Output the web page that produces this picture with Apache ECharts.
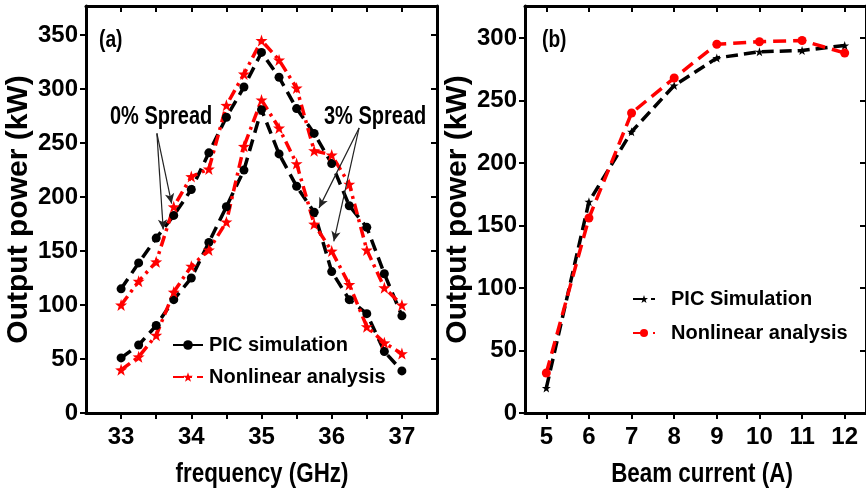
<!DOCTYPE html>
<html>
<head>
<meta charset="utf-8">
<script src="https://cdn.jsdelivr.net/npm/echarts@6/dist/echarts.min.js"></script>
<style>
  html, body { margin: 0; padding: 0; background: #fff; }
  #chart { width: 866px; height: 497px; }
</style>
</head>
<body>
<div id="chart"></div>
<script>
// (a) output power versus frequency, for 0% and 3% velocity spread
const freq = [33, 33.25, 33.5, 33.75, 34, 34.25, 34.5, 34.75, 35, 35.25, 35.5, 35.75, 36, 36.25, 36.5, 36.75, 37];
const picSpread0 = [115, 139, 162, 183, 207, 241, 274, 302, 334, 311, 282, 259, 231, 192, 172, 129, 90];
const nlSpread0  = [100, 122, 140, 191, 219, 226, 285, 314, 345, 327, 301, 243, 239, 212, 151, 116, 100];
const picSpread3 = [51, 63, 81, 105, 125, 158, 191, 225, 281, 240, 210, 186, 131, 105, 92, 57, 39];
const nlSpread3  = [40, 52, 72, 112, 136, 151, 177, 247, 290, 264, 231, 175, 150, 119, 80, 65, 55];

// (b) output power versus beam current
const current = [5, 6, 7, 8, 9, 10, 11, 12];
const picCurrent = [20, 169, 225, 262, 284, 289, 290, 294];
const nlCurrent  = [32, 156, 240, 268, 295, 297, 298, 288];

// tick positions
const freqTicks = [33, 33.5, 34, 34.5, 35, 35.5, 36, 36.5, 37];
const freqLabels = [33, 34, 35, 36, 37];
const currentTicks = [5, 6, 7, 8, 9, 10, 11, 12];
const powerTicksA = [0, 50, 100, 150, 200, 250, 300, 350];
const powerTicksB = [0, 50, 100, 150, 200, 250, 300];

const pair = (xs, ys) => xs.map((x, i) => [x, ys[i]]);

const SANS = "'Liberation Sans', Arial, sans-serif";
const RED = '#ff0000';
const BLACK = '#000000';
const STAR = 'path://M0,-10 L2.35,-3.2 L9.5,-3.1 L3.8,1.2 L5.9,8.1 L0,4 L-5.9,8.1 L-3.8,1.2 L-9.5,-3.1 L-2.35,-3.2 Z';

const axisLine = { show: true, onZero: false, lineStyle: { color: BLACK, width: 3 } };
const tickStyle = { width: 2, color: BLACK };

function bottomAxis(gridIndex, min, max, ticks, labels) {
  return {
    type: 'value', gridIndex, min, max, position: 'bottom',
    axisLine,
    axisTick: { show: true, inside: false, length: 6, lineStyle: tickStyle, customValues: ticks },
    axisLabel: { customValues: labels, margin: 12, fontFamily: SANS, fontWeight: 'bold', fontSize: 24, color: BLACK },
    splitLine: { show: false }
  };
}
function topAxis(gridIndex, min, max, ticks) {
  return {
    type: 'value', gridIndex, min, max, position: 'top',
    axisLine,
    axisTick: { show: true, inside: true, length: 6, lineStyle: tickStyle, customValues: ticks },
    axisLabel: { show: false },
    splitLine: { show: false }
  };
}
function leftAxis(gridIndex, max, ticks, name, gap) {
  return {
    type: 'value', gridIndex, min: 0, max, position: 'left',
    axisLine,
    axisTick: { show: true, inside: false, length: 6, lineStyle: tickStyle, customValues: ticks },
    axisLabel: { customValues: ticks, margin: 8, fontFamily: SANS, fontWeight: 'bold', fontSize: 24, color: BLACK },
    splitLine: { show: false },
    name, nameLocation: 'middle', nameGap: gap,
    nameTextStyle: { fontFamily: SANS, fontWeight: 'bold', fontSize: 30, color: BLACK }
  };
}
function rightAxis(gridIndex, max, ticks) {
  return {
    type: 'value', gridIndex, min: 0, max, position: 'right',
    axisLine,
    axisTick: { show: true, inside: true, length: 6, lineStyle: tickStyle, customValues: ticks },
    axisLabel: { show: false },
    splitLine: { show: false }
  };
}

// condensed bold captions
function caption(text, x, y, size, align) {
  return {
    type: 'text', x, y, scaleX: 0.8, silent: true,
    style: { text, font: 'bold ' + size + 'px ' + SANS, fill: BLACK, align: align || 'left', verticalAlign: 'middle' }
  };
}

const arrowStyle = {
  silent: true, symbol: ['none', 'arrow'], symbolSize: [7, 10],
  label: { show: false },
  lineStyle: { color: '#222', width: 1.2, type: 'solid' },
  emphasis: { disabled: true }
};

const picLineA = { color: BLACK, width: 3.5, type: [12, 7] };
const nlLineA  = { color: RED, width: 3.5, type: [11, 5, 3, 5] };
const legendText = { fontFamily: SANS, fontWeight: 'bold', fontSize: 20, color: BLACK };

const option = {
  animation: false,
  backgroundColor: '#ffffff',
  grid: [
    { left: 86, top: 6, width: 351, height: 407 },
    { left: 525, top: 6, width: 352, height: 407 }
  ],
  xAxis: [
    bottomAxis(0, 32.5, 37.5, freqTicks, freqLabels),
    topAxis(0, 32.5, 37.5, freqTicks),
    bottomAxis(1, 4.5, 12.5, currentTicks, currentTicks),
    topAxis(1, 4.5, 12.5, currentTicks)
  ],
  yAxis: [
    leftAxis(0, 377, powerTicksA, 'Output power (kW)', 46),
    rightAxis(0, 377, powerTicksA),
    leftAxis(1, 325.6, powerTicksB, 'Output power (kW)', 45),
    rightAxis(1, 325.6, powerTicksB)
  ],
  legend: [
    {
      data: ['PIC simulation', 'Nonlinear analysis'],
      orient: 'vertical', left: 167, top: 330, itemGap: 12,
      itemWidth: 30, itemHeight: 12,
      textStyle: Object.assign({ padding: [0, 0, 0, 1] }, legendText),
      selectedMode: false
    },
    {
      data: ['PIC Simulation', 'Nonlinear analysis '],
      orient: 'vertical', left: 627, top: 284, itemGap: 14,
      itemWidth: 22, itemHeight: 10,
      textStyle: Object.assign({ padding: [0, 0, 0, 11] }, legendText),
      selectedMode: false
    }
  ],
  graphic: [
    caption('(a)', 99, 40, 24),
    caption('(b)', 542, 40, 24),
    caption('0% Spread', 110, 117, 25),
    caption('3% Spread', 324, 117, 25),
    caption('frequency (GHz)', 262, 474, 28, 'center'),
    caption('Beam current (A)', 702, 474, 28, 'center')
  ],
  series: [
    {
      name: 'PIC simulation', type: 'line', xAxisIndex: 0, yAxisIndex: 0,
      data: pair(freq, picSpread0), symbol: 'circle', symbolSize: 9,
      itemStyle: { color: BLACK }, lineStyle: picLineA,
      markLine: Object.assign({
        data: [
          [{ coord: [33.51, 259] }, { coord: [33.72, 194] }],
          [{ coord: [33.51, 259] }, { coord: [33.6, 170] }]
        ]
      }, arrowStyle)
    },
    {
      name: 'Nonlinear analysis', type: 'line', xAxisIndex: 0, yAxisIndex: 0,
      data: pair(freq, nlSpread0), symbol: STAR, symbolSize: 12,
      itemStyle: { color: RED }, lineStyle: nlLineA
    },
    {
      name: 'PIC simulation', type: 'line', xAxisIndex: 0, yAxisIndex: 0,
      data: pair(freq, picSpread3), symbol: 'circle', symbolSize: 9,
      itemStyle: { color: BLACK }, lineStyle: picLineA,
      markLine: Object.assign({
        data: [
          [{ coord: [36.39, 264] }, { coord: [35.82, 190] }],
          [{ coord: [36.39, 264] }, { coord: [36.03, 159] }]
        ]
      }, arrowStyle)
    },
    {
      name: 'Nonlinear analysis', type: 'line', xAxisIndex: 0, yAxisIndex: 0,
      data: pair(freq, nlSpread3), symbol: STAR, symbolSize: 12,
      itemStyle: { color: RED }, lineStyle: nlLineA
    },
    {
      name: 'PIC Simulation', type: 'line', xAxisIndex: 2, yAxisIndex: 2,
      data: pair(current, picCurrent), symbol: STAR, symbolSize: 9,
      itemStyle: { color: BLACK }, lineStyle: { color: BLACK, width: 3.5, type: [12, 6] }
    },
    {
      name: 'Nonlinear analysis ', type: 'line', xAxisIndex: 2, yAxisIndex: 2,
      data: pair(current, nlCurrent), symbol: 'circle', symbolSize: 9,
      itemStyle: { color: RED }, lineStyle: { color: RED, width: 3.5, type: [13, 7] }
    }
  ]
};

const chart = echarts.init(document.getElementById('chart'), null, { renderer: 'canvas' });
chart.setOption(option);
</script>
</body>
</html>
